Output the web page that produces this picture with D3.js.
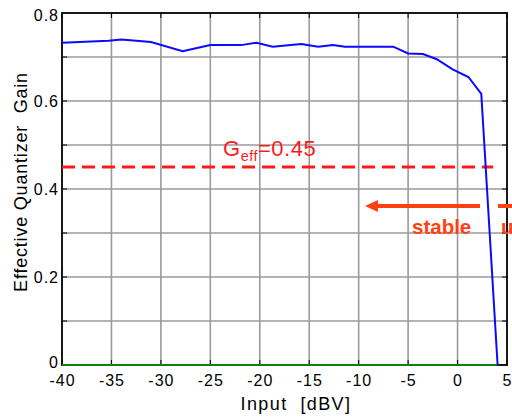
<!DOCTYPE html>
<html><head><meta charset="utf-8">
<script src="https://cdn.jsdelivr.net/npm/d3@7"></script>
<style>body{margin:0;background:#fff;} svg{display:block;font-family:"Liberation Sans",Arial,sans-serif;}</style>
</head><body>
<svg id="c" width="512" height="419"></svg>
<script>
const inputDbv = [-40,-35.3,-34,-31,-27.8,-25,-21.9,-20.3,-18.7,-15.8,-14.1,-12.6,-11.4,-6.5,-5,-3.5,-2.1,-0.5,1.1,2.4,4.05];
const effGain  = [0.7325,0.737,0.740,0.734,0.713,0.727,0.727,0.7325,0.7234,0.7295,0.7234,0.727,0.7234,0.7234,0.708,0.7068,0.695,0.672,0.6545,0.616,0];
const zeroLineX = [-40,4.05];
const xTicks = [-40,-35,-30,-25,-20,-15,-10,-5,0,5];
const yTicks = [0,0.2,0.4,0.6,0.8];
const yGrid = [0.1,0.2,0.3,0.4,0.5,0.6,0.7];
const gEff = 0.45;

const svg = d3.select("#c");
const L=62,R=507,T=13,B=365;
const x = d3.scaleLinear().domain([-40,5]).range([L,R]);
const y = d3.scaleLinear().domain([0,0.8]).range([B,T]);

// grid
svg.append("g").selectAll("line").data(xTicks.slice(1,-1)).join("line")
  .attr("x1",d=>x(d)).attr("x2",d=>x(d)).attr("y1",T).attr("y2",B)
  .attr("stroke","#9a9a9a").attr("stroke-width",1.6);
svg.append("g").selectAll("line").data(yGrid).join("line")
  .attr("x1",L).attr("x2",R).attr("y1",d=>y(d)).attr("y2",d=>y(d))
  .attr("stroke","#9a9a9a").attr("stroke-width",1.6);

// ticks inward
const tickLen=5;
svg.append("g").selectAll("line").data(yGrid).join("line")
  .attr("x1",L).attr("x2",L+tickLen).attr("y1",d=>y(d)).attr("y2",d=>y(d)).attr("stroke","#000");
svg.append("g").selectAll("line").data(yGrid).join("line")
  .attr("x1",R).attr("x2",R-tickLen).attr("y1",d=>y(d)).attr("y2",d=>y(d)).attr("stroke","#000");
svg.append("g").selectAll("line").data(xTicks).join("line")
  .attr("x1",d=>x(d)).attr("x2",d=>x(d)).attr("y1",B).attr("y2",B-tickLen).attr("stroke","#000");
svg.append("g").selectAll("line").data(xTicks).join("line")
  .attr("x1",d=>x(d)).attr("x2",d=>x(d)).attr("y1",T).attr("y2",T+tickLen).attr("stroke","#000");

// frame
svg.append("rect").attr("x",L).attr("y",T).attr("width",R-L).attr("height",B-T)
  .attr("fill","none").attr("stroke","#000").attr("stroke-width",1.8);

// tick labels
svg.append("g").selectAll("text").data(yTicks).join("text")
  .attr("x",L-3).attr("y",d=>y(d)+(d===0.8?7.5:(d===0?3:6))).attr("text-anchor","end")
  .attr("font-size",16).attr("letter-spacing",1).text(d=>d===0?"0":d3.format(".1f")(d));
svg.append("g").selectAll("text").data(xTicks).join("text")
  .attr("x",d=>x(d)+0.5).attr("y",B+21).attr("text-anchor","middle")
  .attr("font-size",16).attr("letter-spacing",1).text(d=>String(d).replace("\u2212","-"));

// axis titles
svg.append("text").attr("x",296).attr("y",410).attr("text-anchor","middle")
  .attr("font-size",18).attr("letter-spacing",1.4).attr("xml:space","preserve").text("Input  [dBV]");
svg.append("text").attr("transform","translate(27,182) rotate(-90)").attr("text-anchor","middle")
  .attr("font-size",18).attr("letter-spacing",0.8).attr("xml:space","preserve").text("Effective Quantizer  Gain");

// green zero line
svg.append("line").attr("x1",x(zeroLineX[0])).attr("x2",x(zeroLineX[1]))
  .attr("y1",y(0)).attr("y2",y(0)).attr("stroke","#108010").attr("stroke-width",2.2);

// red dashed
svg.append("line").attr("x1",x(-40)).attr("x2",x(3.6)).attr("y1",y(gEff)).attr("y2",y(gEff))
  .attr("stroke","#ff1a1a").attr("stroke-width",3).attr("stroke-dasharray","13,7");

// blue data line
const line = d3.line().x((d,i)=>x(inputDbv[i])).y(d=>y(d));
svg.append("path").datum(effGain).attr("d",line).attr("fill","none")
  .attr("stroke","#0a0aff").attr("stroke-width",2);

// G_eff label
const g = svg.append("text").attr("x",223).attr("y",156).attr("fill","#ff1a1a").attr("font-size",22).attr("letter-spacing",0.5);
g.append("tspan").text("G");
g.append("tspan").attr("font-size",14.5).attr("dy",5).text("eff");
g.append("tspan").attr("dy",-5).text("=0.45");

// arrow stable
const oc="#ff4010";
svg.append("line").attr("x1",480).attr("x2",374).attr("y1",206).attr("y2",206)
  .attr("stroke",oc).attr("stroke-width",4);
svg.append("path").attr("d","M365,206 L378,200 L378,212 Z").attr("fill",oc);
svg.append("line").attr("x1",498).attr("x2",512).attr("y1",206).attr("y2",206)
  .attr("stroke",oc).attr("stroke-width",4);
svg.append("text").attr("x",412).attr("y",234).attr("fill",oc).attr("font-weight","bold")
  .attr("font-size",20.5).text("stable");
svg.append("text").attr("x",501).attr("y",234).attr("fill",oc).attr("font-weight","bold")
  .attr("font-size",20.5).text("unstable");
</script>
</body></html>
